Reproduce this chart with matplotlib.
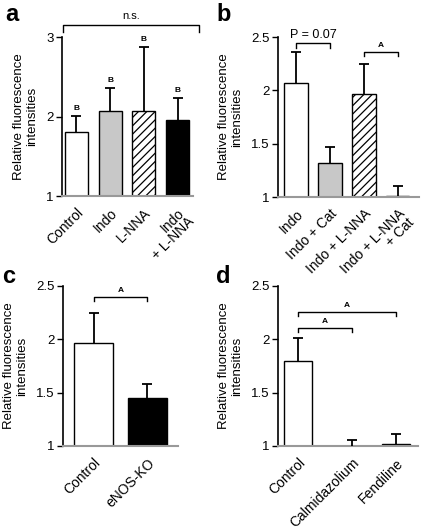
import matplotlib
matplotlib.use("Agg")
import matplotlib.pyplot as plt

plt.rcParams['font.family'] = ['Liberation Sans', 'DejaVu Sans']
plt.rcParams['hatch.linewidth'] = 0.9

# ---- data ----
a_labels = ["Control", "Indo", "L-NNA", "Indo\n+ L-NNA"]
a_values = [1.80, 2.07, 2.07, 1.95]
a_errors = [0.21, 0.29, 0.81, 0.28]

b_labels = ["Indo", "Indo + Cat", "Indo + L-NNA", "Indo + L-NNA\n+ Cat"]
b_values = [2.07, 1.32, 1.97, 1.01]
b_errors = [0.29, 0.15, 0.28, 0.09]

c_labels = ["Control", "eNOS-KO"]
c_values = [1.97, 1.45]
c_errors = [0.28, 0.13]

d_labels = ["Control", "Calmidazolium", "Fendiline"]
d_values = [1.80, 1.00, 1.02]
d_errors = [0.21, 0.06, 0.09]

W, H = 430, 531
fig = plt.figure(figsize=(W / 100, H / 100), dpi=100)


def make_ax(l, r, t, b):
    return fig.add_axes([l / W, 1 - b / H, (r - l) / W, (b - t) / H])


def style(ax, ylim, yticks, yticklabels, labels, positions, xlim):
    ax.set_ylim(*ylim)
    ax.set_xlim(*xlim)
    ax.set_yticks(yticks)
    ax.set_yticklabels(yticklabels, fontsize=9.5)
    ax.set_xticks(positions)
    ax.set_xticklabels(labels, rotation=45, ha='right', rotation_mode='anchor',
                       fontsize=10, linespacing=0.9)
    ax.tick_params(axis='x', length=0, pad=7)
    ax.tick_params(axis='y', length=4, width=1, direction='out', pad=2)
    ax.spines['top'].set_visible(False)
    ax.spines['right'].set_visible(False)
    ax.spines['left'].set_linewidth(1.2)
    ax.spines['bottom'].set_color('#999999')
    ax.spines['bottom'].set_linewidth(1.5)
    ax.set_ylabel("Relative fluorescence\nintensities", fontsize=9.5, linespacing=1.1,
                  labelpad=6)
    ax.patch.set_visible(False)


def bars(ax, pos, vals, errs, width, styles, base):
    for x, v, e, (fc, hatch) in zip(pos, vals, errs, styles):
        ax.bar(x, v - base, width, bottom=base, facecolor=fc, edgecolor='black',
               hatch=hatch, linewidth=1.0, zorder=2)
        ax.plot([x, x], [v, v + e], color='black', lw=1.3, zorder=3,
                solid_capstyle='butt')
        ax.plot([x], [v + e], marker='_', markersize=7, markeredgewidth=1.3,
                color='black', zorder=3)


def bracket(ax, x0, x1, y, drop, text, fs=6, bold=True):
    ax.plot([x0, x0, x1, x1], [y - drop, y, y, y - drop], color='black', lw=1.0,
            clip_on=False, zorder=4)
    ax.text((x0 + x1) / 2, y + drop * 0.6, text, ha='center', va='bottom',
            fontsize=fs, fontweight='bold' if bold else 'normal', clip_on=False)


WHITE = ('white', '')
GRAY = ('#c8c8c8', '')
HATCH = ('white', '////')
BLACK = ('black', '')

# ---- panel a ----
ax = make_ax(62, 193, 37, 196)
pos = list(range(len(a_labels)))
style(ax, (1, 3), [1, 2, 3], ['1', '2', '3'], a_labels, pos, (-0.43, 3.46))
bars(ax, pos, a_values, a_errors, 0.68, [WHITE, GRAY, HATCH, BLACK], 1)
for x, v, e in zip(pos, a_values, a_errors):
    ax.text(x, v + e + 0.05, "B", ha='center', va='bottom', fontsize=6, fontweight='bold')
ax.plot([-0.41, -0.41, 3.65, 3.65], [3.06, 3.15, 3.15, 3.06], color='black', lw=1.0,
        clip_on=False)
ax.text(1.62, 3.2, "n.s.", ha='center', va='bottom', fontsize=8)

# ---- panel b ----
ax = make_ax(278, 419, 37, 197)
pos = list(range(len(b_labels)))
style(ax, (1, 2.5), [1, 1.5, 2, 2.5], ['1', '1.5', '2', '2.5'], b_labels, pos, (-0.53, 3.62))
bars(ax, pos, b_values, b_errors, 0.68, [WHITE, GRAY, HATCH, BLACK], 1)
bracket(ax, 0, 1, 2.44, 0.04, "P = 0.07", fs=9, bold=False)
bracket(ax, 2, 3, 2.36, 0.04, "A", fs=6)

# ---- panel c ----
ax = make_ax(63, 178, 286, 446)
pos = list(range(len(c_labels)))
style(ax, (1, 2.5), [1, 1.5, 2, 2.5], ['1', '1.5', '2', '2.5'], c_labels, pos, (-0.565, 1.565))
bars(ax, pos, c_values, c_errors, 0.72, [WHITE, BLACK], 1)
bracket(ax, 0, 1, 2.40, 0.04, "A", fs=6)

# ---- panel d ----
ax = make_ax(278, 418, 286, 446)
d_pos = [0, 1.1, 2]
style(ax, (1, 2.5), [1, 1.5, 2, 2.5], ['1', '1.5', '2', '2.5'], d_labels, d_pos, (-0.41, 2.45))
bars(ax, d_pos, d_values, d_errors, 0.57, [WHITE, BLACK, BLACK], 1)
bracket(ax, 0, 1.1, 2.11, 0.04, "A", fs=6)
bracket(ax, 0, 2, 2.26, 0.04, "A", fs=6)

# ---- panel letters ----
for x, y, s in [(5, 21, 'a'), (216, 21, 'b'), (2, 283, 'c'), (216, 283, 'd')]:
    fig.text(x / W, 1 - y / H, s, fontsize=17, fontweight='bold', ha='left', va='baseline')

fig.savefig("out.png", dpi=100)
